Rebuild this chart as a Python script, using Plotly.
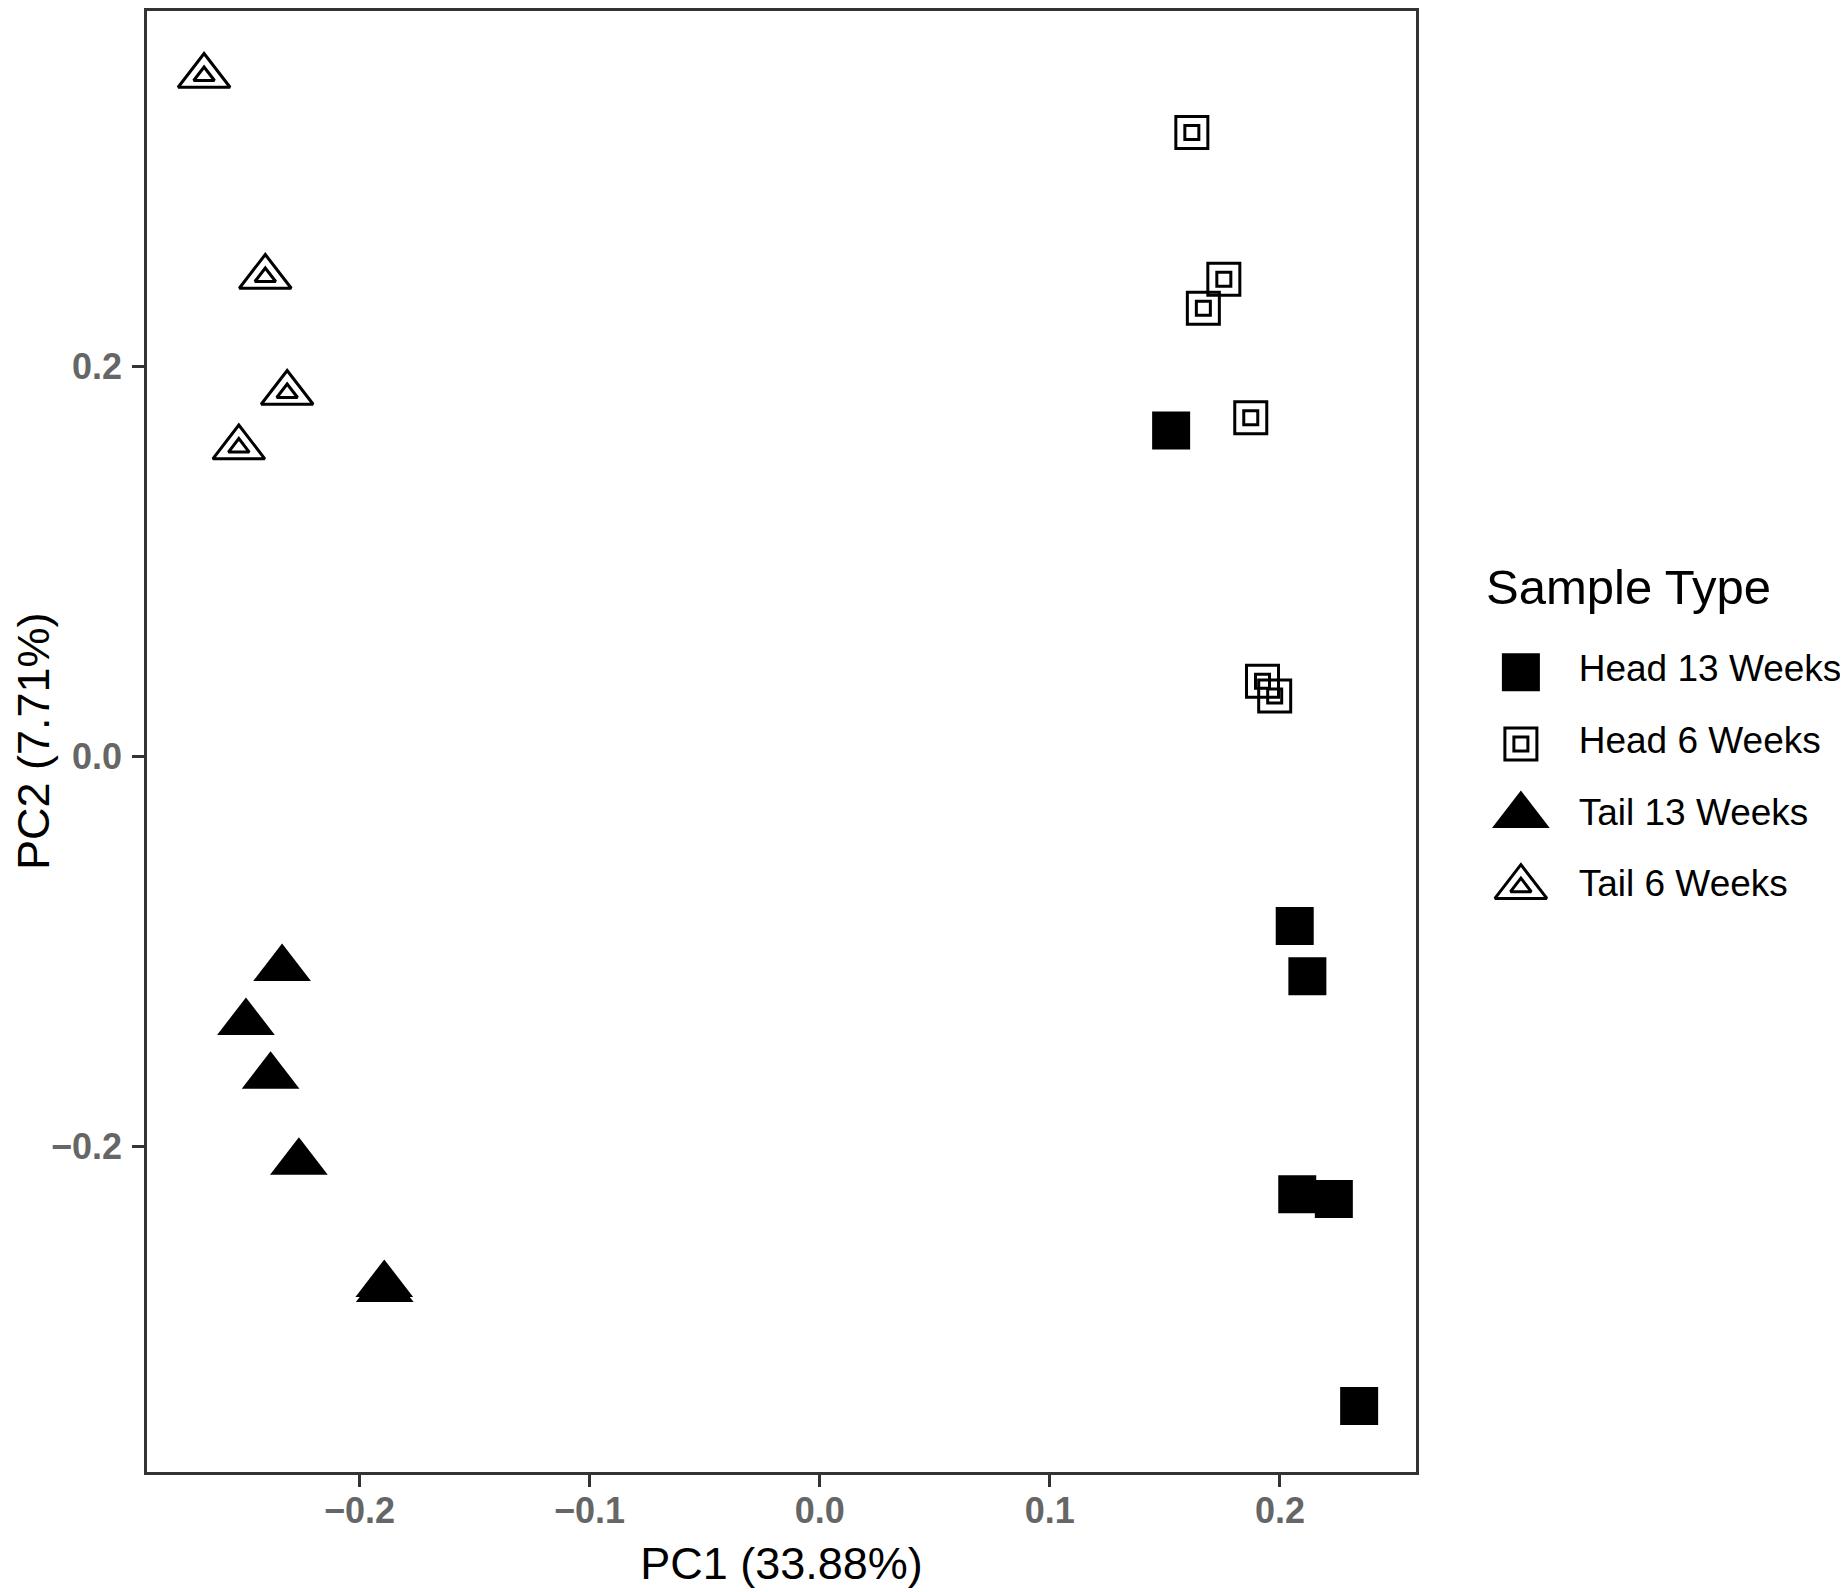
import plotly.graph_objects as go

# 数据
categories = ['Head 13 Weeks', 'Head 6 Weeks', 'Tail 13 Weeks', 'Tail 6 Weeks']

head13_x = [0.1527, 0.2064, 0.2119, 0.2075, 0.2234, 0.2344]
head13_y = [0.1672, -0.0870, -0.1128, -0.2246, -0.2270, -0.3333]

head6_x = [0.1617, 0.1756, 0.1667, 0.1873, 0.1924, 0.1977]
head6_y = [0.3200, 0.2447, 0.2299, 0.1737, 0.0385, 0.0309]

tail13_x = [-0.2336, -0.2493, -0.2386, -0.2263, -0.1892, -0.1890]
tail13_y = [-0.1088, -0.1365, -0.1641, -0.2082, -0.2709, -0.2735]

tail6_x = [-0.2675, -0.2409, -0.2314, -0.2524]
tail6_y = [0.3490, 0.2459, 0.1864, 0.1584]

x_ticks = [-0.2, -0.1, 0.0, 0.1, 0.2]
y_ticks = [-0.2, 0.0, 0.2]

# page has an 8px body margin, so the figure is drawn 8px smaller and everything shifted
OFF = 8
W, H = 1848 - OFF, 1592 - OFF
FONT = 'Liberation Sans, Arial, sans-serif'
AXIS_COL = '#333333'
TICK_COL = '#666666'


def px_x(p):
    return (p - OFF) / W


def px_y(p):
    return 1 - (p - OFF) / H


# marker styles per group: list of (symbol, size, line width)
styles = {
    'Head 13 Weeks': [('square', 38, 0)],
    'Head 6 Weeks': [('square-open', 32, 3), ('square-open', 14, 3)],
    'Tail 13 Weeks': [('triangle-up', 50, 0)],
    'Tail 6 Weeks': [('triangle-up-open', 45, 3), ('triangle-up-open', 18, 3)],
}
points = {
    'Head 13 Weeks': (head13_x, head13_y),
    'Head 6 Weeks': (head6_x, head6_y),
    'Tail 13 Weeks': (tail13_x, tail13_y),
    'Tail 6 Weeks': (tail6_x, tail6_y),
}

fig = go.Figure()

# 主图
for cat in categories:
    xs, ys = points[cat]
    for sym, size, lw in styles[cat]:
        fig.add_trace(go.Scatter(
            x=xs, y=ys, mode='markers', name=cat, showlegend=False,
            marker=dict(symbol=sym, size=size, color='black',
                        line=dict(color='black', width=lw)),
            xaxis='x', yaxis='y'))

# 自定义图例 (second pair of axes, so legend keys keep the real marker size)
for cat in categories:
    for sym, size, lw in styles[cat]:
        fig.add_trace(go.Scatter(
            x=[0], y=[cat], mode='markers', showlegend=False,
            marker=dict(symbol=sym, size=size, color='black',
                        line=dict(color='black', width=lw)),
            xaxis='x2', yaxis='y2', hoverinfo='skip'))
fig.add_trace(go.Scatter(
    x=[1.45] * len(categories), y=categories, mode='text', text=categories,
    textposition='middle right', showlegend=False,
    textfont=dict(family=FONT, size=37, color='black'),
    xaxis='x2', yaxis='y2', hoverinfo='skip'))

fig.add_annotation(
    text='Sample Type', xref='paper', yref='paper',
    x=px_x(1484), y=px_y(587), xanchor='left', yanchor='middle',
    showarrow=False, font=dict(family=FONT, size=49, color='black'))

axis_common = dict(
    showgrid=False, zeroline=False, showline=True, mirror=True,
    linecolor=AXIS_COL, linewidth=2.5,
    ticks='outside', ticklen=12, tickwidth=3, tickcolor=AXIS_COL,
    tickfont=dict(family=FONT, size=36, color=TICK_COL, weight='bold'),
    tickformat='.1f',
)

fig.update_layout(
    width=W, height=H,
    margin=dict(l=0, r=0, t=0, b=0),
    paper_bgcolor='white', plot_bgcolor='white',
    font=dict(family=FONT, color='black'),
    xaxis=dict(axis_common, domain=[px_x(147), px_x(1416)], range=[-0.2923, 0.2591],
               tickvals=x_ticks, ticklabelstandoff=-7,
               title=dict(text='PC1 (33.88%)', font=dict(family=FONT, size=45, color='black'),
                          standoff=18)),
    yaxis=dict(axis_common, domain=[px_y(1472), px_y(10.5)], range=[-0.3671, 0.3826],
               tickvals=y_ticks, ticklabelstandoff=3,
               title=dict(text='PC2 (7.71%)', font=dict(family=FONT, size=45, color='black'),
                          standoff=12)),
    xaxis2=dict(domain=[px_x(1481), 1.0], range=[-1, 8.2], visible=False, fixedrange=True),
    yaxis2=dict(domain=[px_y(923), px_y(636.4)], range=[3.5, -0.5], visible=False,
                type='category', categoryorder='array', categoryarray=categories,
                fixedrange=True),
)

fig.write_html('out.html')
